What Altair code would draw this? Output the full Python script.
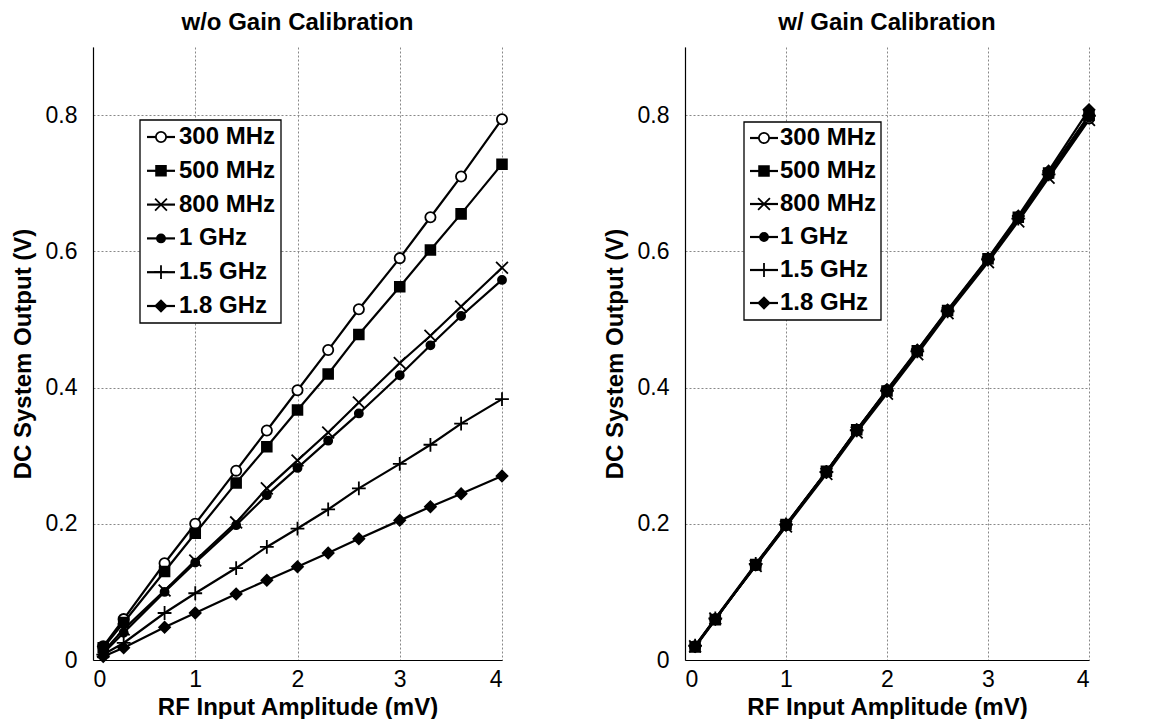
import altair as alt
import pandas as pd

FONT = "Liberation Sans"

x_vals = [0.1, 0.3, 0.7, 1.0, 1.4, 1.7, 2.0, 2.3, 2.6, 3.0, 3.3, 3.6, 4.0]
series = ["300 MHz", "500 MHz", "800 MHz", "1 GHz", "1.5 GHz", "1.8 GHz"]

# Left panel: without gain calibration
wo_300 = [0.020, 0.060, 0.142, 0.200, 0.278, 0.337, 0.396, 0.455, 0.515, 0.590, 0.650, 0.710, 0.794]
wo_500 = [0.018, 0.055, 0.130, 0.186, 0.260, 0.313, 0.367, 0.420, 0.478, 0.548, 0.602, 0.655, 0.728]
wo_800 = [0.012, 0.045, 0.102, 0.146, 0.202, 0.252, 0.293, 0.334, 0.378, 0.436, 0.476, 0.519, 0.576]
wo_1g = [0.010, 0.040, 0.100, 0.143, 0.198, 0.242, 0.282, 0.322, 0.362, 0.418, 0.462, 0.505, 0.558]
wo_15g = [0.008, 0.025, 0.069, 0.098, 0.135, 0.166, 0.193, 0.221, 0.252, 0.288, 0.316, 0.347, 0.383]
wo_18g = [0.005, 0.018, 0.048, 0.069, 0.097, 0.117, 0.137, 0.157, 0.178, 0.205, 0.225, 0.244, 0.270]

# Right panel: with gain calibration
w_300 = [0.020, 0.060, 0.139, 0.198, 0.276, 0.337, 0.396, 0.453, 0.512, 0.588, 0.649, 0.713, 0.795]
w_500 = [0.019, 0.059, 0.140, 0.199, 0.277, 0.338, 0.395, 0.454, 0.513, 0.589, 0.650, 0.715, 0.800]
w_800 = [0.020, 0.061, 0.138, 0.196, 0.273, 0.334, 0.391, 0.449, 0.509, 0.584, 0.644, 0.708, 0.793]
w_1g = [0.020, 0.060, 0.139, 0.197, 0.275, 0.336, 0.394, 0.452, 0.511, 0.587, 0.647, 0.712, 0.798]
w_15g = [0.021, 0.061, 0.141, 0.199, 0.276, 0.337, 0.395, 0.453, 0.512, 0.588, 0.648, 0.713, 0.799]
w_18g = [0.020, 0.060, 0.140, 0.198, 0.276, 0.338, 0.397, 0.455, 0.514, 0.590, 0.652, 0.718, 0.808]

x_ticks = [0, 1, 2, 3, 4]
y_ticks = [0, 0.2, 0.4, 0.6, 0.8]

X_PATH = "M-1,-1L1,1M-1,1L1,-1"
PLUS_PATH = "M-1,0L1,0M0,-1L0,1"
marker = {
    "300 MHz": dict(shape="circle", size=105, fill="white"),
    "500 MHz": dict(shape="square", size=95, fill="black"),
    "800 MHz": dict(shape=X_PATH, size=140, fill="black"),
    "1 GHz": dict(shape="circle", size=65, fill="black"),
    "1.5 GHz": dict(shape=PLUS_PATH, size=190, fill="black"),
    "1.8 GHz": dict(shape="diamond", size=120, fill="black"),
}


def long_df(cols):
    rows = []
    for s, ys in zip(series, cols):
        for xv, yv in zip(x_vals, ys):
            rows.append({"series": s, "x": xv, "y": yv})
    return pd.DataFrame(rows)


def panel(df, title, w, box, rows, line_x, text_x):
    base = alt.Chart(df)
    xe = alt.X("x:Q", scale=alt.Scale(domain=[0, 4], nice=False),
               axis=alt.Axis(values=x_ticks, format="d", title="RF Input Amplitude (mV)"))
    ye = alt.Y("y:Q", scale=alt.Scale(domain=[0, 0.9], nice=False),
               axis=alt.Axis(values=y_ticks, format=".1~f", title="DC System Output (V)"))
    lines = base.mark_line(color="black", strokeWidth=2.2).encode(
        x=xe, y=ye, detail="series:N", order="x:Q")
    pts = [
        base.transform_filter(alt.datum.series == s).mark_point(
            filled=True, stroke="black", strokeWidth=1.8, opacity=1, **marker[s]
        ).encode(x=xe, y=ye)
        for s in series
    ]
    main = alt.layer(lines, *pts)

    leg = pd.DataFrame({"series": series})
    ly = alt.Y("series:N", scale=alt.Scale(type="point", domain=series, range=rows, padding=0),
               axis=None)
    box_df = pd.DataFrame({"k": [0]})
    box_l = alt.Chart(box_df).mark_rect(fill="white", stroke="black", strokeWidth=1.3).encode(
        x=alt.value(box[0]), x2=alt.value(box[1]), y=alt.value(box[2]), y2=alt.value(box[3]))
    rules = alt.Chart(leg).mark_rule(color="black", strokeWidth=2.2).encode(
        x=alt.value(line_x[0]), x2=alt.value(line_x[1]), y=ly)
    lpts = [
        alt.Chart(leg).transform_filter(alt.datum.series == s).mark_point(
            filled=True, stroke="black", strokeWidth=1.8, opacity=1, **marker[s]
        ).encode(x=alt.value((line_x[0] + line_x[1]) / 2), y=ly)
        for s in series
    ]
    texts = alt.Chart(leg).mark_text(
        align="left", baseline="middle", font=FONT, fontSize=24, fontWeight="bold", color="black"
    ).encode(x=alt.value(text_x), y=ly, text="series:N")

    return alt.layer(main, box_l, rules, *lpts, texts).resolve_scale(
        y="independent", x="independent"
    ).properties(
        width=w, height=613,
        title=alt.Title(title, font=FONT, fontSize=24, fontWeight="bold", offset=12,
                        anchor="middle", color="black"),
    )


left = panel(long_df([wo_300, wo_500, wo_800, wo_1g, wo_15g, wo_18g]),
             "w/o Gain Calibration", 409, (47, 188, 73, 276), [90, 259], (54, 82), 86)
right = panel(long_df([w_300, w_500, w_800, w_1g, w_15g, w_18g]),
              "w/ Gain Calibration", 404, (59, 196, 75, 273), [91, 256], (65, 93), 95)

chart = alt.hconcat(left, right, spacing=183, bounds="flush").properties(
    padding={"left": 3, "top": 3, "right": 5, "bottom": 0}
).configure_axis(
    labelFont=FONT, labelFontSize=23, labelColor="black",
    titleFont=FONT, titleFontSize=24, titleFontWeight="bold", titleColor="black",
    domainColor="black", domainWidth=1.2, ticks=False,
    gridColor="#888888", gridDash=[2, 2], gridWidth=1,
).configure_axisY(labelPadding=16, titlePadding=10).configure_axisX(
    labelPadding=8, titlePadding=4
).configure_view(stroke=None)

chart.save("out.html", embed_options={"renderer": "svg", "actions": False})
